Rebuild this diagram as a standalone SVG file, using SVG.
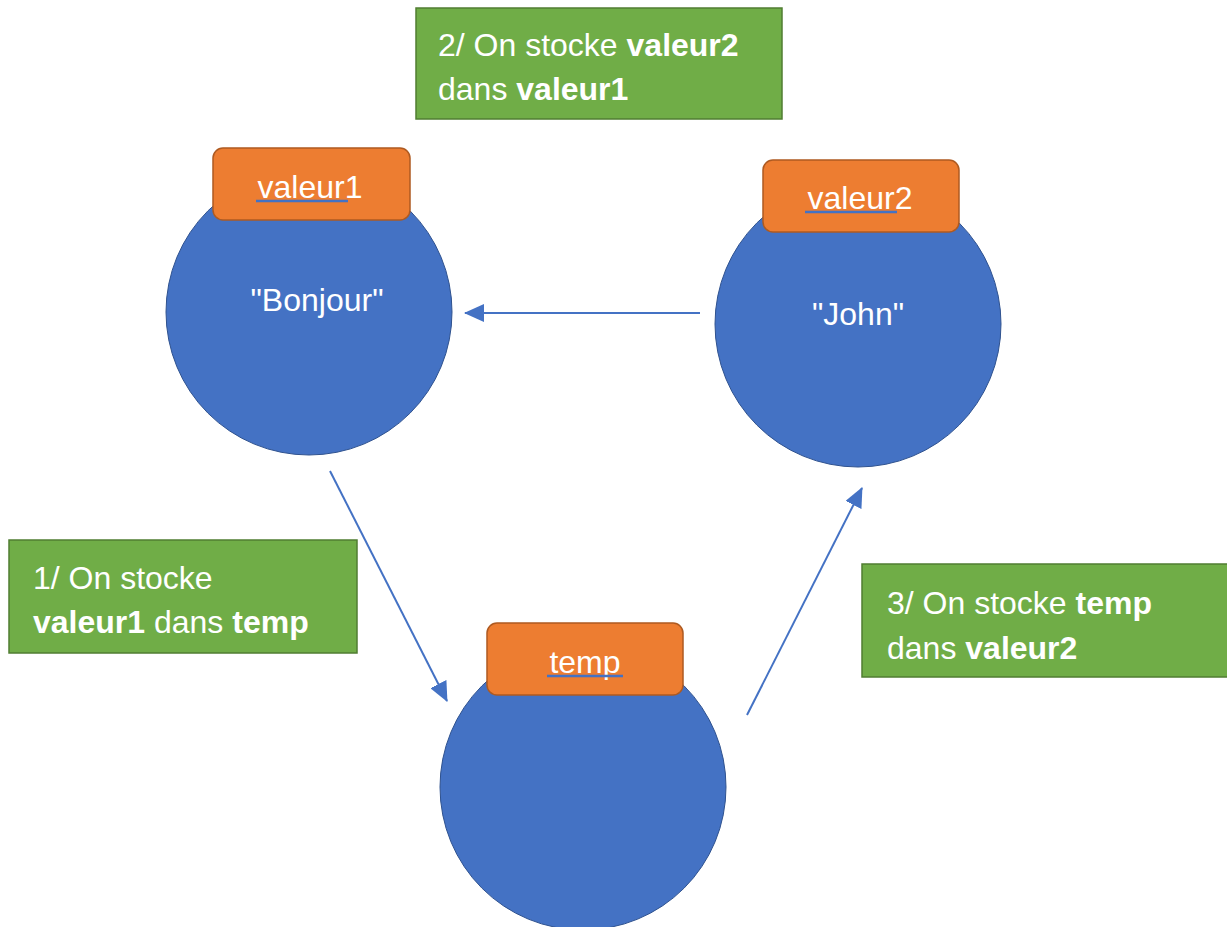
<svg xmlns="http://www.w3.org/2000/svg" width="1227" height="927" viewBox="0 0 1227 927">
  <style>
    text { font-family: "Liberation Sans", Arial, sans-serif; font-size: 32px; fill: #ffffff; }
    .b { font-weight: bold; }
    .circle { fill: #4472C4; stroke: #2F528F; stroke-width: 1; }
    .tag { fill: #ED7D31; stroke: #AE5A21; stroke-width: 1.5; }
    .note { fill: #70AD47; stroke: #507E32; stroke-width: 1.5; }
    .ul { stroke: #4472C4; stroke-width: 2.5; }
    .link { fill: none; stroke: #4472C4; stroke-width: 2; }
  </style>
  <defs>
    <marker id="arrow" markerUnits="userSpaceOnUse" viewBox="0 0 20 18" markerWidth="20" markerHeight="18" refX="19" refY="9" orient="auto">
      <path d="M0,0 L20,9 L0,18 Z" fill="#4472C4"/>
    </marker>
  </defs>
  <rect width="1227" height="927" fill="#ffffff"/>

  <!-- variable valeur1 -->
  <g id="valeur1">
    <circle class="circle" cx="309" cy="312" r="143"/>
    <rect class="tag" x="213" y="148" width="197" height="72" rx="10"/>
    <text x="310" y="198" text-anchor="middle">valeur1</text>
    <line class="ul" x1="256" y1="201" x2="348" y2="201"/>
    <text x="317" y="311" text-anchor="middle">"Bonjour"</text>
  </g>

  <!-- variable valeur2 -->
  <g id="valeur2">
    <circle class="circle" cx="858" cy="324" r="143"/>
    <rect class="tag" x="763" y="160" width="196" height="72" rx="10"/>
    <text x="860" y="209" text-anchor="middle">valeur2</text>
    <line class="ul" x1="805" y1="212" x2="897" y2="212"/>
    <text x="858" y="325" text-anchor="middle">"John"</text>
  </g>

  <!-- variable temp -->
  <g id="temp">
    <circle class="circle" cx="583" cy="787" r="143"/>
    <rect class="tag" x="487" y="623" width="196" height="72" rx="10"/>
    <text x="585" y="673" text-anchor="middle">temp</text>
    <line class="ul" x1="547" y1="676" x2="623" y2="676"/>
  </g>

  <!-- step notes -->
  <g id="step1">
    <rect class="note" x="9" y="540" width="348" height="113"/>
    <text x="33" y="589">1/ On stocke</text>
    <text x="33" y="633"><tspan class="b">valeur1</tspan> dans <tspan class="b">temp</tspan></text>
  </g>
  <g id="step2">
    <rect class="note" x="416" y="8" width="366" height="111"/>
    <text x="438" y="56">2/ On stocke <tspan class="b">valeur2</tspan></text>
    <text x="438" y="100">dans <tspan class="b">valeur1</tspan></text>
  </g>
  <g id="step3">
    <rect class="note" x="862" y="564" width="370" height="113"/>
    <text x="887" y="614">3/ On stocke <tspan class="b">temp</tspan></text>
    <text x="887" y="659">dans <tspan class="b">valeur2</tspan></text>
  </g>

  <!-- connectors -->
  <g id="connectors">
    <line class="link" x1="330" y1="471" x2="447" y2="701" marker-end="url(#arrow)"/>
    <line class="link" x1="700" y1="313" x2="465" y2="313" marker-end="url(#arrow)"/>
    <line class="link" x1="747" y1="715" x2="862" y2="488" marker-end="url(#arrow)"/>
  </g>
</svg>
